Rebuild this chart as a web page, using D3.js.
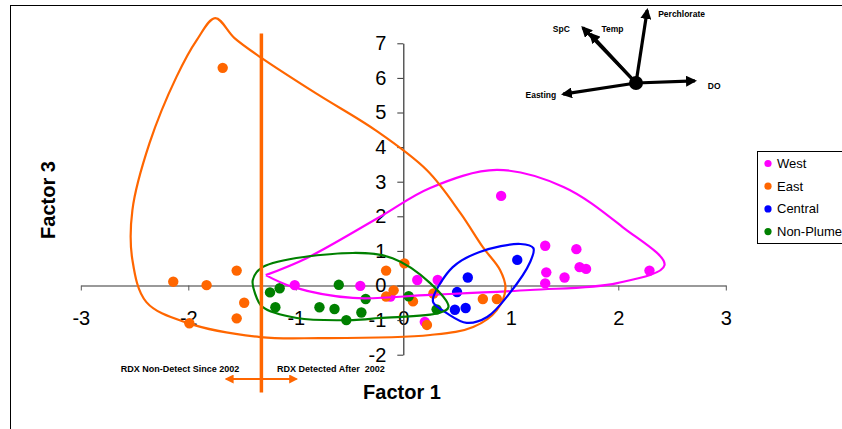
<!DOCTYPE html>
<html>
<head>
<meta charset="utf-8">
<script src="https://cdn.jsdelivr.net/npm/d3@7"></script>
<style>
    body { margin: 0; background: #fff; }
    svg { display: block; font-family: "Liberation Sans", Arial, sans-serif; }
</style>
</head>
<body>
<div id="chart"></div>
<script>
// ---- data ----
const xTicks = [-3, -2, -1, 0, 1, 2, 3];
const yTicks = [-2, -1, 0, 1, 2, 3, 4, 5, 6, 7];
const groupNames = ['West', 'East', 'Central', 'Non-Plume'];
const groupColors = ['#ff00ff', '#ff6600', '#0000ff', '#008000'];

const westPoints = [[-1.01, 0.01], [-0.40, -0.01], [-0.12, -0.32], [0.13, 0.16], [0.32, 0.16],
    [0.91, 2.59], [1.32, 1.15], [1.61, 1.05], [1.33, 0.38], [1.32, 0.06], [1.50, 0.23],
    [1.64, 0.53], [1.70, 0.48], [2.29, 0.43], [0.20, -1.05]];
const eastPoints = [[-1.68, 6.29], [-2.14, 0.11], [-1.83, 0.01], [-1.55, 0.43], [-1.48, -0.50],
    [-1.55, -0.95], [-1.99, -1.09], [-0.16, 0.43], [0.01, 0.64], [-0.09, -0.14], [-0.16, -0.32],
    [0.09, -0.46], [0.28, -0.23], [0.22, -1.14], [0.74, -0.39], [0.87, -0.39]];
const centralPoints = [[1.06, 0.74], [0.60, 0.23], [0.50, -0.19], [0.48, -0.70], [0.58, -0.65]];
const nonPlumePoints = [[-1.24, -0.20], [-1.15, -0.08], [-1.19, -0.63], [-0.78, -0.63], [-0.64, -0.68],
    [-0.53, -1.00], [-0.60, 0.02], [-0.39, -0.78], [-0.35, -0.39], [0.05, -0.31], [0.31, -0.69]];

// hand-drawn group outlines (factor units)
const westHull = [[-1.28, 0.30], [-0.90, 0.79], [-0.22, 1.98], [0.25, 2.82], [0.87, 3.34],
    [1.49, 2.85], [2.04, 1.69], [2.43, 0.59], [1.99, 0.07], [1.18, -0.13], [0.25, -0.27],
    [-0.47, -0.36], [-1.03, -0.04], [-1.28, 0.30]];
const eastHull = [[-1.75, 7.73], [-1.57, 7.15], [-1.32, 6.58], [-0.80, 5.53], [-0.26, 4.49],
    [0.22, 3.33], [0.53, 2.10], [0.74, 1.11], [0.90, 0.45], [0.95, -0.07], [0.87, -0.71],
    [0.65, -1.20], [0.25, -1.43], [-0.78, -1.52], [-1.33, -1.49], [-2.01, -1.08], [-2.39, -0.48],
    [-2.52, 0.74], [-2.52, 2.18], [-2.36, 4.12], [-2.11, 6.03], [-1.92, 7.10]];
const centralHull = [[0.28, -0.33], [0.46, 0.53], [0.71, 0.97], [1.09, 1.20], [1.21, 1.08],
    [1.18, 0.68], [0.99, -0.22], [0.78, -0.91], [0.59, -1.08], [0.40, -0.79], [0.28, -0.50]];
const nonPlumeHull = [[-1.40, 0.16], [-1.31, 0.53], [-0.47, 0.94], [-0.10, 0.79], [0.25, 0.07],
    [0.42, -0.62], [0.34, -0.79], [-0.22, -0.94], [-0.47, -1.00], [-0.99, -0.94],
    [-1.31, -0.62], [-1.38, -0.22]];

const rdxSplit = -1.32;
const rdxExtent = [-3.09, 7.28];

// loading vectors for the inset
const loadNames = ['Perchlorate', 'SpC', 'Temp', 'DO', 'Easting'];
const loadX = [0.16, -0.76, -0.65, 0.84, -1.04];
const loadY = [1.04, 0.79, 0.70, 0.03, -0.16];

// ---- chart ----
const svgWidth = 842, svgHeight = 429;
const svg = d3.select('#chart').append('svg')
    .attr('width', svgWidth)
    .attr('height', svgHeight);

svg.append('rect')
    .attr('x', 10.5).attr('y', 5.5)
    .attr('width', 900).attr('height', 500)
    .style('fill', 'none').style('stroke', '#000');

const xScale = d3.scaleLinear().domain([-3, 3]).range([80.8, 725.8]);
const yScale = d3.scaleLinear().domain([-2, 7]).range([354.7, 43.3]);

const defs = svg.append('defs');
const addMarker = (id, color, size) => {
    defs.append('marker')
        .attr('id', id)
        .attr('viewBox', '0 0 10 10')
        .attr('refX', 8).attr('refY', 5)
        .attr('markerUnits', 'userSpaceOnUse')
        .attr('markerWidth', size).attr('markerHeight', size)
        .attr('orient', 'auto-start-reverse')
        .append('path')
        .attr('d', 'M0,0 L10,5 L0,10 Z')
        .style('fill', color);
};
addMarker('arrowBlack', '#000', 11);
addMarker('arrowOrange', '#ff6600', 9);

// axes
const xAxisGroup = svg.append('g')
    .attr('transform', `translate(0, ${yScale(0)})`)
    .call(d3.axisBottom(xScale)
        .tickValues(xTicks)
        .tickSize(5)
        .tickSizeOuter(0)
        .tickPadding(20)
        .tickFormat(d => String(d)));
xAxisGroup.select('.domain').style('stroke', '#777').style('stroke-width', 1.5);
xAxisGroup.selectAll('.tick line').style('stroke', '#555');

const yAxisGroup = svg.append('g')
    .attr('transform', `translate(${xScale(0)}, 0)`)
    .call(d3.axisLeft(yScale)
        .tickValues(yTicks)
        .tickSize(6)
        .tickSizeOuter(0)
        .tickPadding(11)
        .tickFormat(d => String(d)));
yAxisGroup.select('.domain').style('stroke', '#333').style('stroke-width', 1.2);
yAxisGroup.selectAll('.tick line').style('stroke', '#333');

svg.selectAll('.tick text')
    .style('font-size', '20px')
    .style('font-family', '"Liberation Sans", Arial, sans-serif')
    .style('fill', '#000');

// points
const allSeries = [westPoints, eastPoints, centralPoints, nonPlumePoints];
allSeries.forEach((pts, i) => {
    svg.append('g').selectAll('circle')
        .data(pts)
        .enter()
        .append('circle')
        .attr('cx', d => xScale(d[0]))
        .attr('cy', d => yScale(d[1]))
        .attr('r', 5.2)
        .style('fill', groupColors[i]);
});

// outlines
const openLine = d3.line()
    .x(d => xScale(d[0])).y(d => yScale(d[1]))
    .curve(d3.curveCatmullRom.alpha(0.5));
const closedLine = d3.line()
    .x(d => xScale(d[0])).y(d => yScale(d[1]))
    .curve(d3.curveCatmullRomClosed.alpha(0.5));

svg.append('path').attr('d', openLine(westHull))
    .style('fill', 'none').style('stroke', groupColors[0]).style('stroke-width', 2.2);
svg.append('path').attr('d', closedLine(eastHull))
    .style('fill', 'none').style('stroke', groupColors[1]).style('stroke-width', 2.2);
svg.append('path').attr('d', closedLine(centralHull))
    .style('fill', 'none').style('stroke', groupColors[2]).style('stroke-width', 2.2);
svg.append('path').attr('d', closedLine(nonPlumeHull))
    .style('fill', 'none').style('stroke', groupColors[3]).style('stroke-width', 2.2);

// RDX split line and annotation
svg.append('line')
    .attr('x1', xScale(rdxSplit)).attr('x2', xScale(rdxSplit))
    .attr('y1', yScale(rdxExtent[1])).attr('y2', yScale(rdxExtent[0]))
    .style('stroke', '#ff6600').style('stroke-width', 3.5);

svg.append('line')
    .attr('x1', xScale(rdxSplit) - 35).attr('x2', xScale(rdxSplit) + 35)
    .attr('y1', 379).attr('y2', 379)
    .style('stroke', '#ff6600').style('stroke-width', 1.8)
    .attr('marker-start', 'url(#arrowOrange)')
    .attr('marker-end', 'url(#arrowOrange)');

svg.append('text')
    .attr('x', 180).attr('y', 372)
    .attr('text-anchor', 'middle')
    .style('font-size', '9px').style('font-weight', 'bold')
    .text('RDX Non-Detect Since 2002');
svg.append('text')
    .attr('x', 277).attr('y', 372)
    .style('font-size', '9px').style('font-weight', 'bold')
    .style('white-space', 'pre')
    .text('RDX Detected After  2002');

// axis titles
svg.append('text')
    .attr('x', 402).attr('y', 399)
    .attr('text-anchor', 'middle')
    .style('font-size', '20px').style('font-weight', 'bold')
    .text('Factor 1');
svg.append('text')
    .attr('transform', 'translate(55, 200) rotate(-90)')
    .attr('text-anchor', 'middle')
    .style('font-size', '20px').style('font-weight', 'bold')
    .text('Factor 3');

// legend
const legend = svg.append('g');
legend.append('rect')
    .attr('x', 757.5).attr('y', 151.5)
    .attr('width', 120).attr('height', 92)
    .style('fill', '#fff').style('stroke', '#000');
const legendItems = legend.selectAll('.legend-item')
    .data(groupNames)
    .enter()
    .append('g')
    .attr('class', 'legend-item')
    .attr('transform', (d, i) => `translate(768, ${163.5 + i * 22.7})`);
legendItems.append('circle')
    .attr('r', 3.6)
    .style('fill', (d, i) => groupColors[i]);
legendItems.append('text')
    .attr('x', 9).attr('y', 4.5)
    .style('font-size', '13px')
    .text(d => d);

// loading vectors inset
const cx = 636, cy = 83;
const vx = d3.scaleLinear().domain([-1, 1]).range([cx - 70, cx + 70]);
const vy = d3.scaleLinear().domain([-1, 1]).range([cy + 70, cy - 70]);
const labelOffset = {
    'Perchlorate': [11, 7, 'start'],
    'SpC': [-13, 4, 'end'],
    'Temp': [11, -2, 'start'],
    'DO': [13, 8, 'start'],
    'Easting': [-7, 4, 'end']
};
const inset = svg.append('g');
loadNames.forEach((name, i) => {
    inset.append('line')
        .attr('x1', vx(0)).attr('y1', vy(0))
        .attr('x2', vx(loadX[i])).attr('y2', vy(loadY[i]))
        .style('stroke', '#000').style('stroke-width', 3.2)
        .attr('marker-end', 'url(#arrowBlack)');
    const [ox, oy, anchor] = labelOffset[name];
    inset.append('text')
        .attr('x', vx(loadX[i]) + ox).attr('y', vy(loadY[i]) + oy)
        .attr('text-anchor', anchor)
        .style('font-size', '8.5px').style('font-weight', 'bold')
        .text(name);
});
inset.append('circle')
    .attr('cx', vx(0)).attr('cy', vy(0)).attr('r', 7)
    .style('fill', '#000');
</script>
</body>
</html>
